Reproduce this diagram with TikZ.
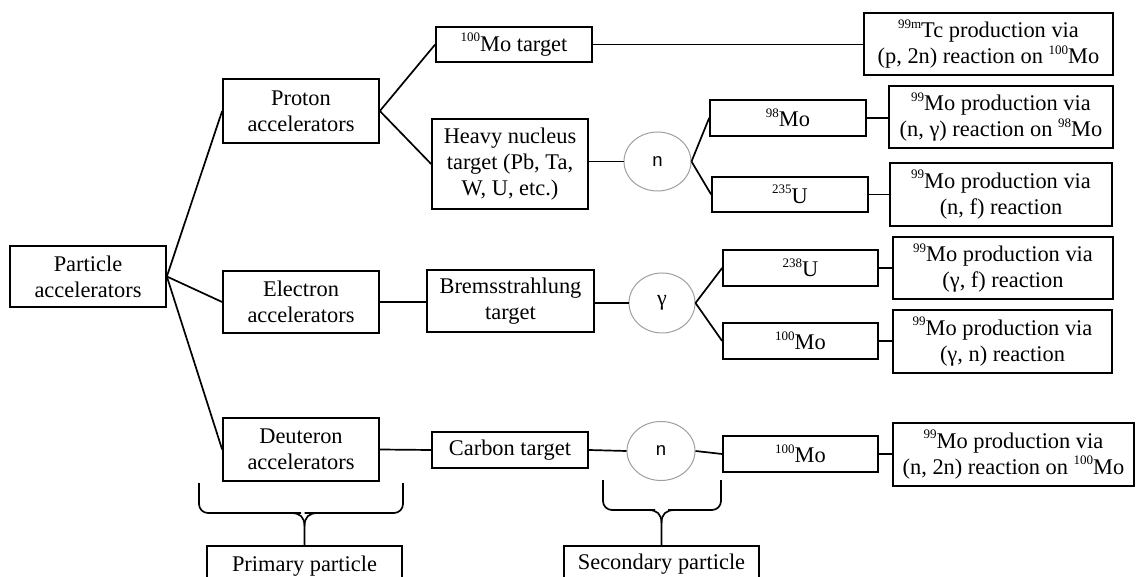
\documentclass[tikz,border=0pt]{standalone}
\usepackage{fontspec}
\setmainfont{Liberation Serif}
\newfontfamily\circfont{Liberation Sans}
\usetikzlibrary{shapes.geometric}
\newcommand{\iso}[1]{\raisebox{0.42em}{\fontsize{13}{13}\selectfont #1}}
\begin{document}
\begin{tikzpicture}[x=1pt,y=-1pt,
  box/.style={draw, line width=1.7pt, align=center, inner xsep=2pt, inner ysep=1pt,
    font=\fontsize{22.4}{26}\selectfont},
  part/.style={draw=gray!75, line width=1pt, ellipse, inner sep=0pt,
    font=\circfont\fontsize{18.5}{20}\selectfont},
  conn/.style={line width=1.7pt},
  brace/.style={line width=1.7pt, rounded corners=9pt}]
\useasboundingbox (0,0) rectangle (1136,577);
\clip (0,0) rectangle (1136,577);
% column 1
\node[box, minimum width=156, minimum height=61] (pa) at (88,276.5) {Particle\\accelerators};
% column 2
\node[box, minimum width=156, minimum height=64] (proton) at (301,111) {Proton\\accelerators};
\node[box, minimum width=156, minimum height=62] (electron) at (301,302) {Electron\\accelerators};
\node[box, minimum width=156, minimum height=63] (deuteron) at (301,449.5) {Deuteron\\accelerators};
% column 3
\node[box, minimum width=156, minimum height=35] (motarget) at (514,44.5) {\iso{100}Mo target};
\node[box, minimum width=156, minimum height=90] (heavy) at (510,164) {Heavy nucleus\\target (Pb, Ta,\\W, U, etc.)};
\node[box, minimum width=167, minimum height=62] (brems) at (510.5,301) {Bremsstrahlung\\target};
\node[box, minimum width=156, minimum height=36] (carbon) at (510,450) {Carbon target};
% circles
\node[part, minimum width=67, minimum height=59] (nA) at (657.5,161.5) {n};
\node[part, minimum width=66, minimum height=60, font=\fontsize{22}{22}\selectfont] (gam) at (662,303) {γ};
\node[part, minimum width=68, minimum height=59] (nB) at (661,451) {n};
% targets
\node[box, minimum width=156, minimum height=36] (mo98) at (788,118) {\iso{98}Mo};
\node[box, minimum width=156, minimum height=35] (u235) at (790,194.5) {\iso{235}U};
\node[box, minimum width=155, minimum height=36] (u238) at (800.5,268) {\iso{238}U};
\node[box, minimum width=155, minimum height=36] (mog) at (800.5,341) {\iso{100}Mo};
\node[box, minimum width=155, minimum height=36] (mon) at (800.5,454) {\iso{100}Mo};
% results
\node[box, minimum width=249, minimum height=62] (tc) at (988.5,44) {\iso{99m}Tc production via\\(p, 2n) reaction on \iso{100}Mo};
\node[box, minimum width=224, minimum height=62] (r1) at (1001,117) {\iso{99}Mo production via\\(n, γ) reaction on \iso{98}Mo};
\node[box, minimum width=222, minimum height=63] (r2) at (1001,194.5) {\iso{99}Mo production via\\(n, f) reaction};
\node[box, minimum width=220, minimum height=62] (r3) at (1003,268) {\iso{99}Mo production via\\(γ, f) reaction};
\node[box, minimum width=219, minimum height=63] (r4) at (1002.5,341.5) {\iso{99}Mo production via\\(γ, n) reaction};
\node[box, minimum width=241, minimum height=63] (r5) at (1013.5,454.5) {\iso{99}Mo production via\\(n, 2n) reaction on \iso{100}Mo};
% bottom labels
\node[box, anchor=north, minimum width=195, inner ysep=0pt, text height=26, text depth=32] (primary) at (304.5,545) {Primary particle};
\node[box, anchor=north, minimum width=195, inner ysep=0pt, text height=24, text depth=32] (secondary) at (661.5,545) {Secondary particle};
% connectors
\draw[conn] (pa.east) -- (proton.west);
\draw[conn] (pa.east) -- (electron.west);
\draw[conn] (pa.east) -- (deuteron.west);
\draw[conn] (proton.east) -- (motarget.west);
\draw[conn] (proton.east) -- (heavy.west);
\draw[conn] (motarget.east) -- (tc.west |- motarget.east);
\draw[conn] (heavy.east |- nA.west) -- (nA.west);
\draw[conn] (nA.east) -- (mo98.west);
\draw[conn] (nA.east) -- (u235.west);
\draw[conn] (mo98.east) -- (r1.west |- mo98.east);
\draw[conn] (u235.east) -- (r2.west |- u235.east);
\draw[conn] (electron.east) -- (brems.west |- electron.east);
\draw[conn] (brems.east |- gam.west) -- (gam.west);
\draw[conn] (gam.east) -- (u238.west);
\draw[conn] (gam.east) -- (mog.west);
\draw[conn] (u238.east) -- (r3.west |- u238.east);
\draw[conn] (mog.east) -- (r4.west |- mog.east);
\draw[conn] (deuteron.east) -- (carbon.west);
\draw[conn] (carbon.east) -- (nB.west);
\draw[conn] (nB.east) -- (mon.west);
\draw[conn] (mon.east) -- (r5.west |- mon.east);
% braces
\coordinate (pt) at (primary.north);
\draw[brace] (199,483) -- (199,513) -- (301,513);
\draw[brace] (403,483) -- (403,513) -- (304.5,513);
\draw[line width=1.7pt] (291,513) .. controls (300,513) and (304.5,517) .. (304.5,526) -- (pt);
\draw[line width=1.7pt] (318,513) .. controls (309,513) and (304.5,517) .. (304.5,526);
\coordinate (st) at (secondary.north);
\draw[brace] (603,480) -- (603,510) -- (655,510);
\draw[brace] (721,480) -- (721,510) -- (668,510);
\draw[line width=1.7pt] (648,510) .. controls (657,510) and (661.5,514) .. (661.5,523) -- (st);
\draw[line width=1.7pt] (675,510) .. controls (666,510) and (661.5,514) .. (661.5,523);
\end{tikzpicture}
\end{document}
